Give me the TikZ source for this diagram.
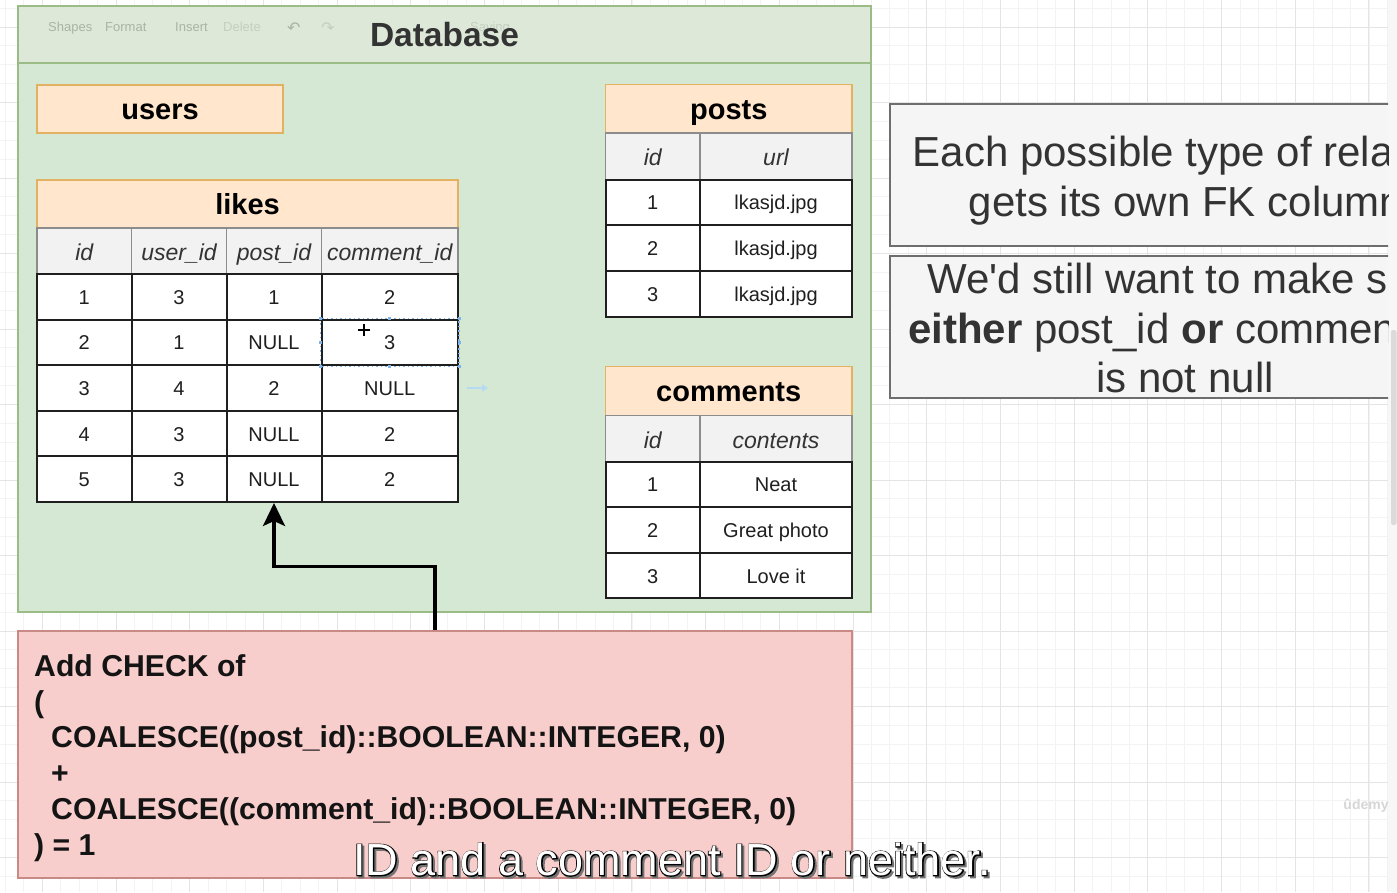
\documentclass[tikz,border=0pt]{standalone}
\usepackage{fontspec}
\setmainfont{Liberation Sans}
\newfontfamily\symfont{DejaVu Sans}
\newfontfamily\rimfont[FakeBold=4]{Liberation Sans}
\usetikzlibrary{arrows.meta}

\definecolor{dbfill}{HTML}{D5E8D4}
\definecolor{dbhead}{HTML}{DDE8D8}
\definecolor{dbline}{HTML}{9BBB87}
\definecolor{orfill}{HTML}{FFE6CC}
\definecolor{orline}{HTML}{E2B262}
\definecolor{colfill}{HTML}{F2F2F2}
\definecolor{colline}{HTML}{8C8C8C}
\definecolor{redfill}{HTML}{F8CECC}
\definecolor{redline}{HTML}{C98A86}
\definecolor{notefill}{HTML}{F5F5F5}
\definecolor{noteline}{HTML}{6E6E6E}
\definecolor{ink}{HTML}{333333}
\definecolor{gridminor}{HTML}{F3F3F3}
\definecolor{gridmajor}{HTML}{E4E4E4}
\definecolor{selblue}{HTML}{7FB2E5}
\definecolor{hoverblue}{HTML}{B5DAF2}
\definecolor{toolgray}{HTML}{A9B5A4}
\definecolor{toolpale}{HTML}{C4CFBF}

\newcommand\fsz[2]{\fontsize{#1}{#2}\selectfont}

\begin{document}
\begin{tikzpicture}[x=1pt,y=-1pt,
  tbhead/.style={draw=orline, fill=orfill, line width=1.5pt, inner sep=0pt,
    text height=21pt, text depth=0pt, font=\fsz{29}{34}\bfseries, text=black},
  colhead/.style={draw=colline, fill=colfill, line width=1.2pt, inner sep=0pt,
    text height=19pt, text depth=0pt, font=\fsz{23}{28}\itshape, text=ink},
  datacell/.style={draw=black!88, fill=white, line width=2pt, inner sep=0pt,
    text height=15pt, text depth=0pt, font=\fsz{20}{24}, text=black!88},
  codeline/.style={anchor=base west, inner sep=0pt, font=\fsz{30.2}{36}\bfseries, text=black!92},
  notebox/.style={draw=noteline, fill=notefill, line width=2pt, inner sep=0pt},
  notetext/.style={anchor=base, inner sep=0pt, font=\fsz{42}{50}, text=ink},
  subtitle/.style={anchor=base, inner sep=0pt, font=\fsz{45}{50}},
  toolword/.style={anchor=base west, inner sep=0pt, font=\fsz{13}{15}, text=toolgray},
  link/.style={line width=3.2pt, black, -{Stealth[length=23pt,width=22pt,inset=5pt]}}
]
\useasboundingbox (0,0) rectangle (1397,892);
\fill[white] (0,0) rectangle (1397,892);

% canvas grid
\foreach \i in {0,...,76} \draw[gridminor, line width=0.8pt] ({5.45+\i*18.425},0) -- ++(0,892);
\foreach \i in {0,...,47} \draw[gridminor, line width=0.8pt] (0,{8.125+\i*18.875}) -- ++(1397,0);
\foreach \i in {0,...,19} \draw[gridmajor, line width=1pt] ({42.3+\i*73.7},0) -- ++(0,892);
\foreach \i in {0,...,11} \draw[gridmajor, line width=1pt] (0,{27+\i*75.5}) -- ++(1397,0);

% scrollbar
\fill[black!3] (1388,0) rectangle (1397,892);
\fill[black!14, rounded corners=2pt] (1391,330) rectangle (1396.5,525);

% Database container
\node[draw=dbline, fill=dbfill, line width=2pt, inner sep=0pt,
      minimum width=853pt, minimum height=606pt] (db) at (444.5,309) {};
\fill[dbhead] (19,7) rectangle (870,63);
\draw[dbline, line width=2pt] (db.west |- 0,63) -- (db.east |- 0,63);

% toolbar showing faintly through the header
\node[toolword] (tb1) at (48,31) {Shapes};
\node[toolword] (tb2) at (105,31) {Format};
\node[toolword] (tb3) at (175,31) {Insert};
\node[toolword, text=toolpale] (tb4) at (223,31) {Delete};
\node[toolword, font=\symfont\fsz{16}{18}] (tb5) at (287,33) {↶};
\node[toolword, font=\symfont\fsz{16}{18}, text=toolpale] (tb6) at (321,33) {↷};
\node[toolword, text=toolpale] (tb7) at (470,31) {Saving};

\node[inner sep=0pt, text height=24pt, text depth=0pt, font=\fsz{33.5}{38}\bfseries, text=ink]
  (dbtitle) at (444.5,34.5) {Database};

% users
\node[tbhead, minimum width=246pt, minimum height=48pt] (users) at (160,109) {users};

% likes
\node[tbhead, minimum width=421pt, minimum height=48pt] (likes) at (247.5,204) {likes};
\foreach \n/\c/\w/\t in {1/84.25/94.5pt/id, 2/179/95pt/user\_id, 3/274/95pt/post\_id, 4/389.75/136.5pt/comment\_id}
  \node[colhead, minimum width=\w, minimum height=46pt] (lk-h-\n) at (\c,251) {\t};
\foreach \rw/\a/\b/\c/\d in {1/1/3/1/2, 2/2/1/NULL/3, 3/3/4/2/NULL, 4/4/3/NULL/2, 5/5/3/NULL/2} {
  \pgfmathsetmacro\yc{274+45.6*(\rw-0.5)}
  \node[datacell, minimum width=94.5pt, minimum height=45.6pt] (lk-\rw-1) at (84.25,\yc) {\a};
  \node[datacell, minimum width=95pt, minimum height=45.6pt] (lk-\rw-2) at (179,\yc) {\b};
  \node[datacell, minimum width=95pt, minimum height=45.6pt] (lk-\rw-3) at (274,\yc) {\c};
  \node[datacell, minimum width=136.5pt, minimum height=45.6pt] (lk-\rw-4) at (389.75,\yc) {\d};
}

% selected cell with its handles
\draw[selblue, line width=1.2pt, dash pattern=on 1.5pt off 3pt]
  (lk-2-4.north west) rectangle (lk-2-4.south east);
\foreach \p in {north west,north,north east,east,south east,south,south west,west}
  \fill[selblue] ([shift={(-1.5pt,-1.5pt)}]lk-2-4.\p) rectangle ++(3pt,3pt);
\draw[white, line width=4pt] (357,330) -- (371,330) (364,323) -- (364,337);
\draw[black, line width=2pt] (358,330) -- (370,330) (364,324) -- (364,336);
\coordinate (hv1) at (467,388);
\coordinate (hv2) at (488,388);
\draw[hoverblue, line width=2pt, -{Triangle[length=6pt,width=7pt]}] (hv1) -- (hv2);

% posts
\node[tbhead, minimum width=246.5pt, minimum height=48.5pt] (posts) at (728.75,108.75) {posts};
\node[colhead, minimum width=94.5pt, minimum height=46.5pt] (ps-h-1) at (652.75,156.25) {id};
\node[colhead, minimum width=152pt, minimum height=46.5pt] (ps-h-2) at (776,156.25) {url};
\foreach \rw in {1,2,3} {
  \pgfmathsetmacro\yc{179.5+45.67*(\rw-0.5)}
  \node[datacell, minimum width=94.5pt, minimum height=45.67pt] (ps-\rw-1) at (652.75,\yc) {\rw};
  \node[datacell, minimum width=152pt, minimum height=45.67pt] (ps-\rw-2) at (776,\yc) {lkasjd.jpg};
}

% comments
\node[tbhead, minimum width=246.5pt, minimum height=49pt] (comments) at (728.75,391) {comments};
\node[colhead, minimum width=94.5pt, minimum height=46pt] (cm-h-1) at (652.75,438.5) {id};
\node[colhead, minimum width=152pt, minimum height=46pt] (cm-h-2) at (776,438.5) {contents};
\foreach \rw/\t in {1/Neat, 2/Great photo, 3/Love it} {
  \pgfmathsetmacro\yc{461.5+45.6*(\rw-0.5)}
  \node[datacell, minimum width=94.5pt, minimum height=45.6pt] (cm-\rw-1) at (652.75,\yc) {\rw};
  \node[datacell, minimum width=152pt, minimum height=45.6pt] (cm-\rw-2) at (776,\yc) {\t};
}

% CHECK constraint
\node[draw=redline, fill=redfill, line width=1.5pt, inner sep=0pt,
      minimum width=834pt, minimum height=247pt] (check) at (435,754.5) {};
\node[codeline] (ck1) at (34,676) {Add CHECK of};
\node[codeline] (ck2) at (34,712) {(};
\node[codeline] (ck3) at (51,747) {COALESCE((post\_id)::BOOLEAN::INTEGER, 0)};
\node[codeline] (ck4) at (51,783) {+};
\node[codeline] (ck5) at (51,819) {COALESCE((comment\_id)::BOOLEAN::INTEGER, 0)};
\node[codeline] (ck6) at (34,855) {) = 1};

\draw[link] (check.north) -- ++(0,-64) -| (lk-5-3.south);

% notes on the right
\begin{scope}
\clip (880,90) rectangle (1388,410);
\node[notebox, minimum width=590pt, minimum height=142pt] (note1) at (1185,175) {};
\node[notebox, minimum width=590pt, minimum height=142pt] (note2) at (1185,327) {};
\node[notetext] (n1a) at (1187,166.7) {Each possible type of relation};
\node[notetext] (n1b) at (1186,216.7) {gets its own FK column};
\node[notetext] (n2a) at (1188,293) {We\textquotesingle d still want to make sure};
\node[notetext] (n2b) at (1186,343) {\textbf{either} post\_id \textbf{or} comment\_id};
\node[notetext] (n2c) at (1185,392) {is not null};
\end{scope}

% watermark
\node[inner sep=0pt, font=\fsz{14}{16}\bfseries, text=black!16] (wm) at (1366,806) {ûdemy};

% caption line: dark rim under white letters
\node[subtitle, text=black!55, xshift=2pt, yshift=-2pt, font=\rimfont\fsz{45}{50}] (subshadow) at (672,875.5) {ID and a comment ID or neither.};
\node[subtitle, text=black, font=\rimfont\fsz{45}{50}] (subrim) at (672,875.5) {ID and a comment ID or neither.};
\node[subtitle, text=white] (subtitle) at (672,875.5) {ID and a comment ID or neither.};
\end{tikzpicture}
\end{document}
